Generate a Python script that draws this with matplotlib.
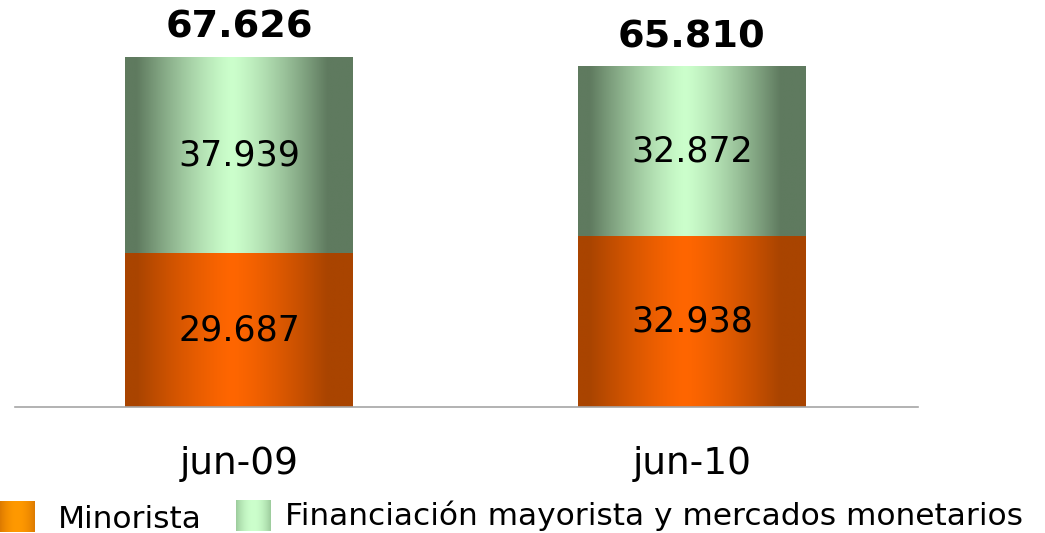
import matplotlib
matplotlib.use('Agg')
import matplotlib.pyplot as plt
import numpy as np
from matplotlib.colors import to_rgb

categories = ['jun-09', 'jun-10']
minorista = [29.687, 32.938]
financiacion = [37.939, 32.872]
totals = [67.626, 65.810]
series_names = ['Minorista', 'Financiación mayorista y mercados monetarios']

W, H = 1045, 533

def fmt(v):
    return '{:.3f}'.format(v)

def gradient(dark, light, n=256, c=0.47, w=0.42, p=1.3):
    # dark at the sides, light in the middle (cylinder look)
    x = np.linspace(0, 1, n)
    f = np.clip(np.abs(x - c) / w, 0, 1) ** p
    d, l = np.array(to_rgb(dark)), np.array(to_rgb(light))
    row = l + (d - l) * f[:, None]
    return row[None, :, :]

plt.rcParams['font.family'] = 'DejaVu Sans'
fig = plt.figure(figsize=(W / 100, H / 100), dpi=100)
ax = fig.add_axes([15 / W, 126 / H, 903 / W, 407 / H])

x = np.arange(len(categories))
width = 0.503
b1 = ax.bar(x, minorista, width, color='#FF6600')
b2 = ax.bar(x, financiacion, width, bottom=minorista, color='#CCFFCC')

for bars, dark, light in [(b1, '#A94400', '#FF6600'), (b2, '#5F7A5F', '#CCFFCC')]:
    g = gradient(dark, light)
    for p in bars:
        x0, y0 = p.get_x(), p.get_y()
        im = ax.imshow(g, extent=[x0, x0 + p.get_width(), y0, y0 + p.get_height()],
                       aspect='auto', zorder=2, interpolation='bilinear')
        im.set_clip_path(p)

for i in range(len(categories)):
    ax.text(x[i], minorista[i] / 2, fmt(minorista[i]), ha='center', va='center',
            fontsize=25, zorder=3)
    ax.text(x[i], minorista[i] + financiacion[i] / 2, fmt(financiacion[i]),
            ha='center', va='center', fontsize=25, zorder=3)
    ax.annotate(fmt(totals[i]), (x[i], minorista[i] + financiacion[i]),
                xytext=(0, 8), textcoords='offset points', ha='center', va='bottom',
                fontsize=27.5, fontweight='bold')

ax.set_xlim(-0.4945, 1.499)
ax.set_ylim(0, 78.6)
ax.set_xticks(x)
ax.set_xticklabels(categories, fontsize=27)
ax.tick_params(axis='x', length=0, pad=28)
ax.set_yticks([])
for s in ['top', 'right', 'left']:
    ax.spines[s].set_visible(False)
ax.spines['bottom'].set_color('#A6A6A6')
ax.spines['bottom'].set_linewidth(1.2)
ax.patch.set_alpha(0)

# legend, drawn by hand: gradient swatches + labels
swatches = [(0, 501, '#DC7A00', '#FF9900'), (236, 500, '#9CCB9C', '#CCFFCC')]
text_pos = [(58, 519), (285, 516)]
for (sx, sy, dark, light), (tx, ty), name in zip(swatches, text_pos, series_names):
    sax = fig.add_axes([sx / W, (H - sy - 31) / H, 35 / W, 31 / H])
    sax.imshow(gradient(dark, light, c=0.5, w=0.5, p=2), aspect='auto',
               interpolation='bilinear')
    sax.axis('off')
    fig.text(tx / W, (H - ty) / H, name, fontsize=22.5, ha='left', va='center')

fig.savefig('out.png', dpi=100)
